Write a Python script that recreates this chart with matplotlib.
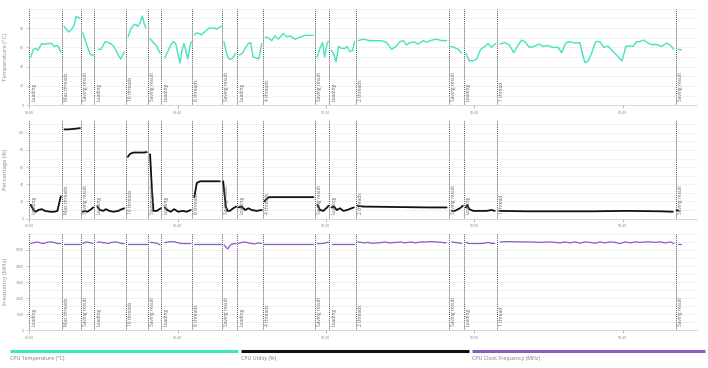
import matplotlib
matplotlib.use("Agg")
import matplotlib.pyplot as plt
from matplotlib.lines import Line2D
from matplotlib.ticker import FuncFormatter, MultipleLocator

plt.rcParams['font.family'] = ['Open Sans', 'DejaVu Sans']

## Benchmark phases (start time in minutes) ##
phase_starts = [0, 8.9, 14.0, 17.5, 26.0, 32.05, 35.6, 43.9, 52.0, 56.0,
                63.0, 77.0, 80.8, 88.1, 113.1, 117.1, 126.1, 174.3]
phase_names = ["Loading", "Max threads", "Saving result", "Loading", "16 threads",
               "Saving result", "Loading", "8 threads", "Saving result", "Loading",
               "4 threads", "Saving result", "Loading", "2 threads", "Saving result",
               "Loading", "1 thread", "Saving result"]

## CPU temperature (C), one list per phase ##
temp_times = [
    [0.45, 1.17, 1.8, 2.34, 2.96, 3.42, 4.12, 4.77, 5.39, 6.1, 6.73, 7.46, 7.9, 8.54],
    [9.43, 10.15, 10.77, 11.5, 12.12, 12.66, 13.39, 13.74],
    [14.46, 15.08, 15.7, 16.43, 16.97, 17.4],
    [18.67, 19.39, 20.01, 20.55, 21.35, 22.09, 22.7, 23.43, 24.05, 24.7, 25.6],
    [26.67, 27.39, 28.1, 28.74, 29.28, 29.9, 30.52, 31.06, 31.52],
    [32.6, 33.5, 34.4, 35.3],
    [36.55, 37.36, 38.17, 38.87, 39.52, 40.05, 40.67, 41.2, 41.75, 42.29, 42.74, 43.37, 43.72],
    [44.53, 45.17, 45.79, 46.41, 47.14, 47.87, 48.57, 49.21, 49.91, 50.56, 51.26, 51.8],
    [52.5, 53.2, 53.8, 54.6, 55.2, 55.7],
    [56.6, 57.5, 58.2, 59.1, 59.7, 60.4, 61.3, 61.9, 62.7],
    [63.57, 64.46, 65.38, 66.26, 67.15, 68.5, 69.41, 70.3, 71.65, 73.0, 74.34, 75.69, 76.58],
    [77.66, 78.38, 79.1, 79.64, 80.34, 80.72],
    [81.5, 82.2, 82.7, 83.4, 84.2, 85.1, 85.7, 86.5, 87.2, 87.7],
    [88.7, 90.05, 91.85, 93.65, 95.0, 96.35, 97.69, 98.85, 99.93, 100.83, 101.73,
     102.63, 103.78, 104.87, 106.2, 107.1, 108.5, 109.8, 111.2, 112.5],
    [113.6, 114.5, 115.7, 116.5],
    [117.7, 118.6, 119.5, 120.6, 121.7, 122.8, 123.7, 124.6, 125.7],
    [126.87, 128.2, 129.4, 130.6, 131.8, 132.7, 133.6, 134.8, 136.0, 137.5, 138.5,
     139.6, 141.1, 142.6, 143.5, 144.6, 145.7, 147.1, 148.4, 149.1, 149.8, 150.7,
     151.6, 152.7, 153.8, 154.9, 156.0, 157.4, 158.7, 159.8, 160.8, 161.9, 162.8,
     163.7, 164.6, 165.7, 166.8, 167.7, 169.1, 170.4, 171.8, 172.8, 173.7],
    [174.9, 175.8],
]
temp_values = [
    [50, 58, 59, 57, 61, 64, 63, 64, 64, 64, 61, 62, 61, 55],
    [82, 78, 76, 79, 83, 92, 91, 90],
    [75, 68, 61, 53, 52, 52],
    [58, 58, 62.5, 66, 65, 63.5, 61.5, 57, 52, 48, 55.5],
    [71, 79, 83, 84, 81.5, 85.5, 92.5, 84, 80],
    [69, 65, 61, 54],
    [49, 55.5, 62.5, 66, 64, 54, 44, 57, 64, 55.5, 48, 61, 66],
    [73, 75, 74.5, 73, 75.5, 78, 80, 80, 80, 79, 80.5, 82],
    [66, 54, 48, 48, 51, 54],
    [52, 54, 59, 64, 65, 50, 49, 48, 64],
    [70.5, 70, 67, 72, 68.5, 74.5, 71, 72, 68.5, 70.5, 72.5, 72.5, 72.5],
    [50, 59, 65, 50, 65, 66],
    [57, 52, 45, 61, 59, 59, 61, 55.5, 57, 66],
    [67, 68.5, 67, 67, 67, 65, 58, 61, 66, 67, 62.5, 65, 65.5, 63.5, 67, 65.5,
     67.5, 68.5, 67, 67],
    [61, 60, 58, 54],
    [54, 46, 46, 48, 58, 61, 64, 60, 64],
    [63.5, 65, 62.5, 54.5, 62.5, 67.5, 66, 60, 61, 63.5, 61, 62, 60, 60, 54.5,
     64.5, 66, 64.5, 65, 54, 44, 46, 54, 66, 66, 60, 61.5, 55.5, 50.5, 46, 61,
     61.5, 61, 66, 66, 67.5, 64.5, 63, 63, 61, 64.5, 62.5, 58],
    [58, 57.5],
]

## CPU utility (%), one list per phase ##
util_times = [
    [0.45, 1.17, 1.8, 2.5, 3.42, 4.3, 5.66, 6.73, 7.63, 8.54],
    [9.5, 10.5, 11.8, 12.9, 13.7],
    [14.46, 15.08, 15.7, 16.43, 17.3],
    [18.4, 19.1, 20.0, 20.7, 21.6, 22.7, 24.05, 24.97, 25.6],
    [26.6, 27.2, 28.1, 29.4, 30.8, 31.7],
    [32.6, 33.05, 33.5, 34.4, 35.5],
    [36.55, 37.25, 38.17, 39.06, 40.2, 41.4, 42.5, 43.55],
    [44.5, 45.2, 46.1, 47.9, 49.6, 51.4],
    [52.3, 53.0, 53.5, 54.1, 55.0, 55.8],
    [56.4, 57.3, 58.2, 59.1, 60.0, 61.3, 62.7],
    [63.4, 64.0, 64.7, 66.7, 72.1, 76.6],
    [77.7, 78.4, 79.3, 80.3, 80.7],
    [81.5, 82.2, 82.9, 83.8, 84.7, 85.7, 86.9, 87.5],
    [88.5, 90.05, 99.0, 108.0, 112.5],
    [113.9, 114.7, 116.1, 116.9],
    [117.7, 118.1, 118.6, 119.7, 121.5, 123.3, 124.6, 125.5],
    [126.7, 134.1, 143.0, 152.0, 161.0, 170.0, 173.5],
    [174.5, 175.0],
]
util_values = [
    [16, 10, 8, 10, 11, 9, 8, 8, 9, 26],
    [104, 104, 104.5, 105, 105.5],
    [8, 9, 8, 10, 13],
    [14, 10, 9, 11, 9, 8, 9, 11, 12],
    [72, 75.5, 77, 77, 77, 77.5],
    [75, 38, 9, 9, 12],
    [13, 10, 8, 11, 8, 9, 8, 10],
    [25, 41.5, 43.5, 43.5, 43.5, 43.5],
    [43.5, 14, 9, 9, 12, 14],
    [13, 14, 10, 12, 10, 9, 10],
    [20, 23, 25, 25, 25, 25],
    [16, 10, 9, 13, 15],
    [13, 14, 10, 12, 9, 10, 12, 13],
    [15, 14, 13.5, 13, 13],
    [9, 9, 12, 15],
    [13, 16, 11, 9, 9, 9, 10, 9],
    [9, 8.5, 8.5, 8.5, 9, 8.5, 8],
    [10, 9],
]

## CPU clock frequency (MHz), one list per phase ##
freq_times = [
    [0.45, 1.3, 2.2, 3.1, 4.0, 4.9, 5.8, 6.7, 7.6, 8.5],
    [9.5, 11.6, 13.7],
    [14.46, 15.08, 15.7, 16.43, 17.2],
    [18.4, 19.1, 20.0, 20.7, 21.35, 22.2, 23.1, 24.0, 24.9, 25.6],
    [26.6, 29.0, 31.7],
    [32.6, 33.5, 34.4, 35.3],
    [36.55, 37.5, 38.4, 39.3, 40.2, 41.1, 42.5, 43.6],
    [44.5, 48.0, 51.7],
    [52.5, 53.0, 53.5, 54.1, 54.7, 55.8],
    [56.4, 57.3, 58.2, 59.1, 60.0, 60.9, 61.8, 62.7],
    [63.4, 70.0, 76.6],
    [77.7, 78.6, 79.5, 80.4, 80.7],
    [81.5, 84.6, 87.6],
    [88.6, 89.5, 90.4, 91.3, 92.2, 93.1, 94.0, 94.9, 95.8, 96.7, 97.6, 98.5, 99.4,
     100.3, 101.2, 102.1, 103.0, 103.9, 104.8, 105.7, 107.0, 108.4, 109.7, 111.1, 112.4],
    [113.9, 114.8, 115.7, 116.6],
    [117.7, 118.6, 119.7, 121.0, 122.4, 123.7, 124.6, 125.5],
    [126.9, 129.6, 132.3, 135.0, 137.7, 140.4, 143.1, 144.5, 145.8, 147.1, 148.5,
     149.8, 151.2, 152.5, 153.9, 155.2, 156.6, 157.9, 159.3, 160.6, 162.0, 163.3,
     164.7, 166.0, 167.4, 168.7, 170.1, 171.4, 172.8, 173.8],
    [174.9, 175.8],
]
freq_values = [
    [5400, 5450, 5500, 5430, 5400, 5480, 5500, 5470, 5400, 5400],
    [5400, 5400, 5400],
    [5400, 5470, 5500, 5440, 5400],
    [5470, 5500, 5440, 5440, 5400, 5470, 5500, 5470, 5400, 5400],
    [5400, 5400, 5400],
    [5480, 5450, 5420, 5320],
    [5450, 5500, 5520, 5500, 5440, 5400, 5400, 5400],
    [5400, 5400, 5400],
    [5330, 5200, 5060, 5260, 5380, 5400],
    [5400, 5470, 5500, 5440, 5400, 5380, 5440, 5400],
    [5400, 5400, 5400],
    [5400, 5400, 5410, 5470, 5470],
    [5400, 5400, 5400],
    [5500, 5470, 5440, 5470, 5420, 5420, 5440, 5455, 5500, 5455, 5440, 5470, 5470,
     5500, 5440, 5470, 5500, 5440, 5470, 5500, 5500, 5520, 5500, 5470, 5440],
    [5500, 5470, 5440, 5400],
    [5470, 5400, 5400, 5400, 5410, 5470, 5410, 5410],
    [5500, 5520, 5500, 5500, 5470, 5500, 5440, 5500, 5440, 5500, 5420, 5500, 5470,
     5420, 5500, 5440, 5500, 5470, 5400, 5500, 5440, 5500, 5470, 5500, 5500, 5470,
     5500, 5440, 5500, 5400],
    [5400, 5400],
]

series_labels = ["CPU Temperature (°C)", "CPU Utility (%)", "CPU Clock Frequency (MHz)"]
series_colors = ["#44e3c0", "#111111", "#8c5bc8"]

temp_ticks = [0, 20, 40, 60, 80]
util_ticks = [0, 20, 40, 60, 80, 100]
freq_ticks = [0, 1000, 2000, 3000, 4000, 5000]


def fmt_time(m, pos):
    return f"{int(m // 60):02d}:{int(round(m % 60)):02d}"


##***********************************************************************##
fig = plt.figure(figsize=(7.08, 3.68), dpi=100)

panels = [
    # bottom, height, ylim top, ticks, minor step, ylabel, data, line width
    (0.714, 0.262, 100, temp_ticks, 10, "Temperature (°C)", temp_times, temp_values, 1.0),
    (0.406, 0.268, 115, util_ticks, 10, "Percentage (%)", util_times, util_values, 1.3),
    (0.102, 0.266, 6080, freq_ticks, 500, "Frequency (MHz)", freq_times, freq_values, 0.9),
]

for i, (bot, h, ytop, ticks, minor, ylab, ts, vs, lw) in enumerate(panels):
    ax = fig.add_axes([0.0411, bot, 0.9434, h])
    ax.set_xlim(0, 180)
    ax.set_ylim(0, ytop)

    ## grid ##
    ax.set_yticks(ticks)
    ax.yaxis.set_minor_locator(MultipleLocator(minor))
    ax.grid(True, which="both", axis="y", color="#ececec", linewidth=0.5)
    ax.set_axisbelow(True)

    ## phase markers ##
    for start, name in zip(phase_starts, phase_names):
        ax.axvline(start, color="#555555", linestyle=(0, (1, 1)), linewidth=0.7)
        ax.text(start + 0.6, ytop * 0.045, name, rotation=90, ha="left",
                va="bottom", fontsize=3.5, color="#666666")

    ## data lines, one segment per phase ##
    for t, v in zip(ts, vs):
        ax.plot(t, v, color=series_colors[i], linewidth=lw,
                solid_joinstyle="round", solid_capstyle="round")

    ## axes styling ##
    for side in ["top", "right", "left"]:
        ax.spines[side].set_visible(False)
    ax.spines["bottom"].set_color("#d0d0d0")
    ax.spines["bottom"].set_linewidth(0.6)
    ax.set_xticks([0, 40, 80, 120, 160])
    ax.xaxis.set_major_formatter(FuncFormatter(fmt_time))
    ax.tick_params(axis="x", labelsize=2.6, colors="#999999", length=2,
                   width=0.5, pad=2, labelcolor="#888888")
    ax.tick_params(axis="y", which="major", labelsize=2.6, colors="#bbbbbb",
                   length=2, width=0.5, pad=2, labelcolor="#888888")
    ax.tick_params(axis="y", which="minor", length=0)
    ax.set_ylabel(ylab, fontsize=4.3, color="#888888", labelpad=4)
    ax.yaxis.set_label_coords(-0.031, 0.5)

## legend bars ##
legend_x = [(0.014, 0.336), (0.3404, 0.6624), (0.6667, 0.9958)]
for (x0, x1), lab, col in zip(legend_x, series_labels, series_colors):
    fig.add_artist(Line2D([x0, x1], [0.046, 0.046], transform=fig.transFigure,
                          color=col, linewidth=2.2, solid_capstyle="butt"))
    fig.text(x0, 0.027, lab, fontsize=3.8, color="#777777", ha="left", va="center")

plt.savefig("out.png", dpi=100)
##***********************************************************************##
